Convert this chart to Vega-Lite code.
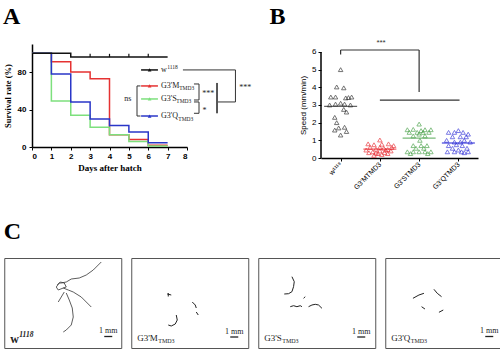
{
 "$schema": "https://vega.github.io/schema/vega-lite/v6.json",
 "padding": {"left": 3, "top": 5, "right": 3, "bottom": 0},
 "background": "white",
 "config": {
  "view": {"stroke": null},
  "axis": {"grid": false, "domainColor": "#000", "tickColor": "#000", "labelColor": "#000", "titleColor": "#000", "tickSize": 3, "labelOverlap": false, "labelSeparation": 0}
 },
 "spacing": 28,
 "center": true,
 "resolve": {"scale": {"color": "independent"}},
 "vconcat": [
  {
   "spacing": 17,
   "resolve": {"scale": {"color": "independent"}},
   "hconcat": [
    {
     "title": {"text": "A", "anchor": "start", "frame": "bounds", "fontSize": 24, "font": "Liberation Serif", "fontWeight": "bold", "offset": 15},
     "width": 155,
     "height": 103,
     "layer": [
      {
       "data": {"values": [
        {"s": "M", "x": 0, "y": 100}, {"s": "M", "x": 1, "y": 91}, {"s": "M", "x": 2, "y": 80}, {"s": "M", "x": 3, "y": 73}, {"s": "M", "x": 4, "y": 13}, {"s": "M", "x": 5, "y": 8}, {"s": "M", "x": 6, "y": 2}, {"s": "M", "x": 7, "y": 2},
        {"s": "S", "x": 0, "y": 100}, {"s": "S", "x": 1, "y": 49}, {"s": "S", "x": 2, "y": 34}, {"s": "S", "x": 3, "y": 21}, {"s": "S", "x": 4, "y": 13}, {"s": "S", "x": 5, "y": 6}, {"s": "S", "x": 6, "y": 1}, {"s": "S", "x": 7, "y": 1},
        {"s": "Q", "x": 0, "y": 100}, {"s": "Q", "x": 1, "y": 78}, {"s": "Q", "x": 2, "y": 48}, {"s": "Q", "x": 3, "y": 30}, {"s": "Q", "x": 4, "y": 23}, {"s": "Q", "x": 5, "y": 16}, {"s": "Q", "x": 6, "y": 4.6}, {"s": "Q", "x": 7, "y": 4.6},
        {"s": "W", "x": 0, "y": 100}, {"s": "W", "x": 1, "y": 100}, {"s": "W", "x": 2, "y": 96}, {"s": "W", "x": 7, "y": 96}
       ]},
       "mark": {"type": "line", "interpolate": "step-after", "strokeWidth": 1.5},
       "encoding": {
        "x": {"field": "x", "type": "quantitative", "scale": {"domain": [0, 8], "nice": false},
              "axis": {"values": [0, 1, 2, 3, 4, 5, 6, 7, 8], "tickCount": 9, "labelOverlap": false, "title": "Days after hatch", "titleFont": "Liberation Serif", "titleFontSize": 9, "titleFontWeight": "bold", "labelFont": "Liberation Sans", "labelFontSize": 8, "labelFontWeight": "bold", "titlePadding": 3, "domainWidth": 1.5}},
        "y": {"field": "y", "type": "quantitative", "scale": {"domain": [0, 110], "nice": false},
              "axis": {"values": [0, 20, 40, 60, 80, 100], "labelOverlap": false, "title": "Survival rate (%)", "titleFont": "Liberation Serif", "titleFontSize": 8.5, "titleFontWeight": "bold", "labelFont": "Liberation Sans", "labelFontSize": 8, "labelFontWeight": "bold", "labelPadding": 3, "titlePadding": 5, "domainWidth": 1.5}},
        "color": {"field": "s", "type": "nominal", "scale": {"domain": ["M", "S", "Q", "W"], "range": ["#e53232", "#7de07d", "#2a36c8", "#111111"]}, "legend": null},
        "order": {"field": "x"}
       }
      },
      {
       "data": {"values": [{"x": 3, "x2": 3, "y": 96, "y2": 99.5}, {"x": 4, "x2": 4, "y": 96, "y2": 99.5}, {"x": 5, "x2": 5, "y": 96, "y2": 99.5}, {"x": 6, "x2": 6, "y": 96, "y2": 99.5}]},
       "mark": {"type": "rule", "color": "#111", "strokeWidth": 1.2},
       "encoding": {"x": {"field": "x", "type": "quantitative"}, "x2": {"field": "x2"}, "y": {"field": "y", "type": "quantitative"}, "y2": {"field": "y2"}}
      },
      {
       "data": {"values": [
        {"s": "W", "x": 5.63, "x2": 6.5, "y": 82.3, "y2": 82.3},
        {"s": "M", "x": 5.63, "x2": 6.5, "y": 65.2, "y2": 65.2},
        {"s": "S", "x": 5.63, "x2": 6.5, "y": 51.3, "y2": 51.3},
        {"s": "Q", "x": 5.63, "x2": 6.5, "y": 33.1, "y2": 33.1}
       ]},
       "mark": {"type": "rule", "strokeWidth": 1.5},
       "encoding": {"x": {"field": "x", "type": "quantitative"}, "x2": {"field": "x2"}, "y": {"field": "y", "type": "quantitative"}, "y2": {"field": "y2"},
                    "color": {"field": "s", "type": "nominal", "legend": null}}
      },
      {
       "data": {"values": [
        {"s": "W", "x": 6.07, "y": 82.3}, {"s": "M", "x": 6.07, "y": 65.2}, {"s": "S", "x": 6.07, "y": 51.3}, {"s": "Q", "x": 6.07, "y": 33.1}
       ]},
       "mark": {"type": "point", "shape": "triangle-up", "filled": true, "size": 14, "opacity": 1},
       "encoding": {"x": {"field": "x", "type": "quantitative"}, "y": {"field": "y", "type": "quantitative"},
                    "color": {"field": "s", "type": "nominal", "legend": null}}
      },
      {
       "data": {"values": [
        {"x": 6.66, "y": 82.3, "t": "w"}, {"x": 6.66, "y": 65.2, "t": "G3'M"}, {"x": 6.66, "y": 51.3, "t": "G3'S"}, {"x": 6.66, "y": 33.1, "t": "G3'Q"}
       ]},
       "mark": {"type": "text", "align": "left", "baseline": "middle", "font": "Liberation Serif", "fontSize": 8, "fill": "#222"},
       "encoding": {"x": {"field": "x", "type": "quantitative"}, "y": {"field": "y", "type": "quantitative"}, "text": {"field": "t"}}
      },
      {
       "data": {"values": [{"x": 6.98, "y": 82.3, "t": "1118"}]},
       "mark": {"type": "text", "align": "left", "baseline": "middle", "font": "Liberation Serif", "fontSize": 5.5, "dy": -3, "fill": "#222"},
       "encoding": {"x": {"field": "x", "type": "quantitative"}, "y": {"field": "y", "type": "quantitative"}, "text": {"field": "t"}}
      },
      {
       "data": {"values": [
        {"x": 7.6, "y": 65.2, "t": "TMD3"}, {"x": 7.45, "y": 51.3, "t": "TMD3"}, {"x": 7.55, "y": 33.1, "t": "TMD3"}
       ]},
       "mark": {"type": "text", "align": "left", "baseline": "middle", "font": "Liberation Serif", "fontSize": 5.5, "dy": 2.5, "fill": "#222"},
       "encoding": {"x": {"field": "x", "type": "quantitative"}, "y": {"field": "y", "type": "quantitative"}, "text": {"field": "t"}}
      },
      {
       "data": {"values": [
        {"x": 5.42, "x2": 5.42, "y": 65.2, "y2": 33.1},
        {"x": 5.42, "x2": 5.6, "y": 65.2, "y2": 65.2},
        {"x": 5.42, "x2": 5.6, "y": 33.1, "y2": 33.1},
        {"x": 8.36, "x2": 8.62, "y": 67.3, "y2": 67.3},
        {"x": 8.62, "x2": 8.62, "y": 67.3, "y2": 50.2},
        {"x": 8.36, "x2": 8.62, "y": 50.2, "y2": 50.2},
        {"x": 8.36, "x2": 8.62, "y": 48.1, "y2": 48.1},
        {"x": 8.62, "x2": 8.62, "y": 48.1, "y2": 36},
        {"x": 8.36, "x2": 8.62, "y": 36, "y2": 36},
        {"x": 9.55, "x2": 10.5, "y": 48.1, "y2": 48.1},
        {"x": 10.5, "x2": 10.5, "y": 82.3, "y2": 48.1},
        {"x": 7.79, "x2": 10.5, "y": 82.3, "y2": 82.3}
       ]},
       "mark": {"type": "rule", "color": "#333", "strokeWidth": 1},
       "encoding": {"x": {"field": "x", "type": "quantitative"}, "x2": {"field": "x2"}, "y": {"field": "y", "type": "quantitative"}, "y2": {"field": "y2"}}
      },
      {
       "data": {"values": [{"x": 9.55, "x2": 9.55, "y": 68.4, "y2": 36}]},
       "mark": {"type": "rule", "color": "#555", "strokeWidth": 2},
       "encoding": {"x": {"field": "x", "type": "quantitative"}, "x2": {"field": "x2"}, "y": {"field": "y", "type": "quantitative"}, "y2": {"field": "y2"}}
      },
      {
       "data": {"values": [
        {"x": 4.95, "y": 51.3, "t": "ns"}, {"x": 9.1, "y": 57, "t": "***"}, {"x": 8.9, "y": 38.5, "t": "*"}, {"x": 11.0, "y": 63.5, "t": "***"}
       ]},
       "mark": {"type": "text", "align": "center", "baseline": "middle", "font": "Liberation Serif", "fontSize": 8, "fill": "#222"},
       "encoding": {"x": {"field": "x", "type": "quantitative"}, "y": {"field": "y", "type": "quantitative"}, "text": {"field": "t"}}
      }
     ]
    },
    {
     "title": {"text": "B", "anchor": "start", "frame": "bounds", "fontSize": 24, "font": "Liberation Serif", "fontWeight": "bold", "offset": 10, "dx": -30},
     "width": 157,
     "height": 114,
     "layer": [
      {
       "data": {"values": [
        {"g": "w", "x": 0.00, "y": 5.0}, {"g": "w", "x": -0.10, "y": 4.02}, {"g": "w", "x": 0.08, "y": 3.97}, {"g": "w", "x": -0.25, "y": 3.45}, {"g": "w", "x": -0.13, "y": 3.45}, {"g": "w", "x": 0.13, "y": 3.4}, {"g": "w", "x": 0.2, "y": 3.42}, {"g": "w", "x": 0.28, "y": 3.45},
        {"g": "w", "x": -0.28, "y": 3.0}, {"g": "w", "x": -0.13, "y": 3.05}, {"g": "w", "x": 0.0, "y": 3.1}, {"g": "w", "x": 0.1, "y": 3.05}, {"g": "w", "x": 0.25, "y": 3.0}, {"g": "w", "x": 0.08, "y": 2.75}, {"g": "w", "x": 0.15, "y": 2.6},
        {"g": "w", "x": -0.15, "y": 2.3}, {"g": "w", "x": -0.1, "y": 2.0}, {"g": "w", "x": 0.1, "y": 1.74}, {"g": "w", "x": -0.05, "y": 1.7}, {"g": "w", "x": -0.15, "y": 1.58}, {"g": "w", "x": 0.15, "y": 1.5}, {"g": "w", "x": 0.0, "y": 1.3},
        {"g": "M", "x": 1.0, "y": 1.02}, {"g": "M", "x": 0.7, "y": 0.8}, {"g": "M", "x": 0.85, "y": 0.75}, {"g": "M", "x": 1.05, "y": 0.78}, {"g": "M", "x": 1.22, "y": 0.8}, {"g": "M", "x": 1.35, "y": 0.7}, {"g": "M", "x": 0.75, "y": 0.6}, {"g": "M", "x": 1.1, "y": 0.55},
        {"g": "M", "x": 0.9, "y": 0.5}, {"g": "M", "x": 1.2, "y": 0.48}, {"g": "M", "x": 0.65, "y": 0.45}, {"g": "M", "x": 1.0, "y": 0.4}, {"g": "M", "x": 1.28, "y": 0.4}, {"g": "M", "x": 0.82, "y": 0.35}, {"g": "M", "x": 1.12, "y": 0.3}, {"g": "M", "x": 0.95, "y": 0.25},
        {"g": "M", "x": 1.05, "y": 0.2}, {"g": "M", "x": 0.72, "y": 0.3}, {"g": "M", "x": 1.15, "y": 0.45}, {"g": "M", "x": 1.3, "y": 0.6}, {"g": "M", "x": 0.85, "y": 0.15}, {"g": "M", "x": 1.0, "y": 0.6}, {"g": "M", "x": 0.9, "y": 0.28}, {"g": "M", "x": 1.2, "y": 0.25},
        {"g": "S", "x": 2.0, "y": 1.92}, {"g": "S", "x": 1.7, "y": 1.6}, {"g": "S", "x": 1.85, "y": 1.62}, {"g": "S", "x": 2.15, "y": 1.6}, {"g": "S", "x": 2.3, "y": 1.6}, {"g": "S", "x": 2.05, "y": 1.55}, {"g": "S", "x": 1.75, "y": 1.45}, {"g": "S", "x": 1.95, "y": 1.45},
        {"g": "S", "x": 2.1, "y": 1.45}, {"g": "S", "x": 2.25, "y": 1.45}, {"g": "S", "x": 2.0, "y": 1.35}, {"g": "S", "x": 1.85, "y": 1.25}, {"g": "S", "x": 2.15, "y": 1.25}, {"g": "S", "x": 2.02, "y": 1.0}, {"g": "S", "x": 1.85, "y": 0.7}, {"g": "S", "x": 2.05, "y": 0.7},
        {"g": "S", "x": 2.2, "y": 0.7}, {"g": "S", "x": 1.92, "y": 0.55}, {"g": "S", "x": 2.12, "y": 0.55}, {"g": "S", "x": 1.7, "y": 0.35}, {"g": "S", "x": 1.85, "y": 0.35}, {"g": "S", "x": 2.0, "y": 0.35}, {"g": "S", "x": 2.15, "y": 0.35}, {"g": "S", "x": 2.3, "y": 0.35},
        {"g": "S", "x": 1.78, "y": 0.25}, {"g": "S", "x": 2.22, "y": 0.25},
        {"g": "Q", "x": 3.0, "y": 1.55}, {"g": "Q", "x": 2.75, "y": 1.45}, {"g": "Q", "x": 2.9, "y": 1.45}, {"g": "Q", "x": 3.12, "y": 1.45}, {"g": "Q", "x": 3.25, "y": 1.35}, {"g": "Q", "x": 2.85, "y": 1.2}, {"g": "Q", "x": 3.05, "y": 1.2}, {"g": "Q", "x": 3.2, "y": 1.2},
        {"g": "Q", "x": 2.7, "y": 1.0}, {"g": "Q", "x": 3.15, "y": 1.0}, {"g": "Q", "x": 2.9, "y": 0.9}, {"g": "Q", "x": 3.05, "y": 0.9}, {"g": "Q", "x": 3.3, "y": 0.9}, {"g": "Q", "x": 2.75, "y": 0.7}, {"g": "Q", "x": 3.1, "y": 0.7}, {"g": "Q", "x": 2.85, "y": 0.55},
        {"g": "Q", "x": 3.22, "y": 0.55}, {"g": "Q", "x": 3.0, "y": 0.45}, {"g": "Q", "x": 2.72, "y": 0.35}, {"g": "Q", "x": 2.9, "y": 0.35}, {"g": "Q", "x": 3.08, "y": 0.35}, {"g": "Q", "x": 3.25, "y": 0.35}, {"g": "Q", "x": 3.15, "y": 0.3}, {"g": "Q", "x": 2.95, "y": 0.75}
       ]},
       "mark": {"type": "point", "shape": "triangle-up", "filled": false, "size": 20, "strokeWidth": 0.9},
       "encoding": {
        "x": {"field": "x", "type": "quantitative", "scale": {"domain": [-0.5, 3.5], "nice": false},
              "axis": {"values": [0, 1, 2, 3], "labelOverlap": false, "labelExpr": "['w¹¹¹⁸', 'G3\\'MTMD3', 'G3\\'STMD3', 'G3\\'QTMD3'][datum.value]", "labelAngle": -45, "labelAlign": "right", "labelBaseline": "middle", "labelFont": "Liberation Sans", "labelFontSize": 7, "title": null, "domainWidth": 1.5}},
        "y": {"field": "y", "type": "quantitative", "scale": {"domain": [0, 6.45], "nice": false},
              "axis": {"values": [0, 1, 2, 3, 4, 5, 6], "tickCount": 7, "labelOverlap": false, "domain": false, "title": "Speed (mm/min)", "titleFont": "Liberation Sans", "titleFontSize": 8, "titleFontWeight": "normal", "titleY": 61, "labelFont": "Liberation Sans", "labelFontSize": 8, "titlePadding": 4}},
        "color": {"field": "g", "type": "nominal", "scale": {"domain": ["w", "M", "S", "Q"], "range": ["#222222", "#e8242a", "#3f9c3f", "#2a2ad6"]}, "legend": null}
       }
      },
      {
       "data": {"values": [{"x": -0.5, "x2": -0.5, "y": 0, "y2": 6}]},
       "mark": {"type": "rule", "color": "#000", "strokeWidth": 1.5},
       "encoding": {"x": {"field": "x", "type": "quantitative"}, "x2": {"field": "x2"}, "y": {"field": "y", "type": "quantitative"}, "y2": {"field": "y2"}}
      },
      {
       "data": {"values": [{"g": "w", "x": 0, "y": 2.92}, {"g": "M", "x": 1, "y": 0.5}, {"g": "S", "x": 2, "y": 1.13}, {"g": "Q", "x": 3, "y": 0.85}]},
       "mark": {"type": "tick", "orient": "horizontal", "size": 33, "thickness": 1.3},
       "encoding": {"x": {"field": "x", "type": "quantitative"}, "y": {"field": "y", "type": "quantitative"},
                    "color": {"field": "g", "type": "nominal", "legend": null}}
      },
      {
       "data": {"values": [
        {"x": 0, "x2": 0, "y": 6.11, "y2": 5.85},
        {"x": 0, "x2": 2, "y": 6.11, "y2": 6.11},
        {"x": 2, "x2": 2, "y": 6.11, "y2": 3.74},
        {"x": 1, "x2": 3.03, "y": 3.28, "y2": 3.28}
       ]},
       "mark": {"type": "rule", "color": "#333", "strokeWidth": 1.2},
       "encoding": {"x": {"field": "x", "type": "quantitative"}, "x2": {"field": "x2"}, "y": {"field": "y", "type": "quantitative"}, "y2": {"field": "y2"}}
      },
      {
       "data": {"values": [{"x": 1.03, "y": 6.5, "t": "***"}]},
       "mark": {"type": "text", "align": "center", "baseline": "middle", "font": "Liberation Sans", "fontSize": 8, "fill": "#333"},
       "encoding": {"x": {"field": "x", "type": "quantitative"}, "y": {"field": "y", "type": "quantitative"}, "text": {"field": "t"}}
      }
     ]
    }
   ]
  },
  {
   "title": {"text": "C", "anchor": "start", "frame": "bounds", "fontSize": 24, "font": "Liberation Serif", "fontWeight": "bold", "offset": 14},
   "spacing": 8,
   "hconcat": [
    {
     "width": 117, "height": 90, "view": {"stroke": "#555", "strokeWidth": 1},
     "layer": [
      {
       "data": {"values": [
        {"seg": 1, "i": 1, "x": 97, "y": 4}, {"seg": 1, "i": 2, "x": 89, "y": 12}, {"seg": 1, "i": 3, "x": 82, "y": 17}, {"seg": 1, "i": 4, "x": 75, "y": 20}, {"seg": 1, "i": 5, "x": 67, "y": 21}, {"seg": 1, "i": 6, "x": 62, "y": 24}, {"seg": 1, "i": 7, "x": 57, "y": 25},
        {"seg": 1, "i": 8, "x": 55, "y": 25}, {"seg": 1, "i": 9, "x": 52, "y": 29}, {"seg": 1, "i": 10, "x": 54, "y": 32}, {"seg": 1, "i": 11, "x": 59, "y": 30}, {"seg": 1, "i": 12, "x": 62, "y": 29}, {"seg": 1, "i": 13, "x": 60, "y": 25}, {"seg": 1, "i": 14, "x": 56, "y": 24}, {"seg": 1, "i": 15, "x": 53, "y": 27},
        {"seg": 2, "i": 1, "x": 59, "y": 30}, {"seg": 2, "i": 2, "x": 64, "y": 32}, {"seg": 2, "i": 3, "x": 69, "y": 34}, {"seg": 2, "i": 4, "x": 77, "y": 39}, {"seg": 2, "i": 5, "x": 82, "y": 44}, {"seg": 2, "i": 6, "x": 87, "y": 49},
        {"seg": 3, "i": 1, "x": 62, "y": 35}, {"seg": 3, "i": 2, "x": 65, "y": 42}, {"seg": 3, "i": 3, "x": 68, "y": 50}, {"seg": 3, "i": 4, "x": 69, "y": 59}, {"seg": 3, "i": 5, "x": 67, "y": 67}, {"seg": 3, "i": 6, "x": 62, "y": 72}, {"seg": 3, "i": 7, "x": 59, "y": 74},
        {"seg": 4, "i": 1, "x": 60, "y": 34}, {"seg": 4, "i": 2, "x": 57, "y": 39}, {"seg": 4, "i": 3, "x": 54, "y": 44}
       ]},
       "mark": {"type": "line", "color": "#333", "strokeWidth": 0.8},
       "encoding": {"x": {"field": "x", "type": "quantitative", "scale": {"domain": [0, 117], "nice": false}, "axis": null},
                    "y": {"field": "y", "type": "quantitative", "scale": {"domain": [90, 0], "nice": false}, "axis": null},
                    "detail": {"field": "seg"}, "order": {"field": "i"}}
      },
      {
       "data": {"values": [{"x": 100, "x2": 108, "y": 78.5, "y2": 78.5}]},
       "mark": {"type": "rule", "color": "#222", "strokeWidth": 1.3},
       "encoding": {"x": {"field": "x", "type": "quantitative"}, "x2": {"field": "x2"}, "y": {"field": "y", "type": "quantitative"}, "y2": {"field": "y2"}}
      },
      {
       "data": {"values": [{"x": 104, "y": 73, "t": "1 mm"}]},
       "mark": {"type": "text", "font": "Liberation Serif", "fontSize": 8, "align": "center", "baseline": "middle", "fill": "#222"},
       "encoding": {"x": {"field": "x", "type": "quantitative"}, "y": {"field": "y", "type": "quantitative"}, "text": {"field": "t"}}
      },
      {
       "data": {"values": [{"x": 6, "y": 81, "t": "w"}]},
       "mark": {"type": "text", "font": "Liberation Serif", "fontSize": 12, "fontWeight": "bold", "align": "left", "baseline": "middle", "fill": "#222"},
       "encoding": {"x": {"field": "x", "type": "quantitative"}, "y": {"field": "y", "type": "quantitative"}, "text": {"field": "t"}}
      },
      {
       "data": {"values": [{"x": 15, "y": 81, "t": "1118"}]},
       "mark": {"type": "text", "font": "Liberation Serif", "fontSize": 7.5, "fontStyle": "italic", "fontWeight": "bold", "align": "left", "baseline": "middle", "dy": -4, "fill": "#222"},
       "encoding": {"x": {"field": "x", "type": "quantitative"}, "y": {"field": "y", "type": "quantitative"}, "text": {"field": "t"}}
      }
     ]
    },
    {
     "width": 117, "height": 90, "view": {"stroke": "#555", "strokeWidth": 1},
     "layer": [
      {
       "data": {"values": [
        {"seg": 1, "i": 1, "x": 36, "y": 36}, {"seg": 1, "i": 2, "x": 40, "y": 37},
        {"seg": 2, "i": 1, "x": 37, "y": 35}, {"seg": 2, "i": 2, "x": 37, "y": 38.5},
        {"seg": 3, "i": 1, "x": 61, "y": 44}, {"seg": 3, "i": 2, "x": 64, "y": 47}, {"seg": 3, "i": 3, "x": 65, "y": 50},
        {"seg": 4, "i": 1, "x": 65, "y": 54}, {"seg": 4, "i": 2, "x": 67, "y": 57},
        {"seg": 5, "i": 1, "x": 45, "y": 57}, {"seg": 5, "i": 2, "x": 46, "y": 62}, {"seg": 5, "i": 3, "x": 44, "y": 66}, {"seg": 5, "i": 4, "x": 40, "y": 68}, {"seg": 5, "i": 5, "x": 37, "y": 67}
       ]},
       "mark": {"type": "line", "color": "#222", "strokeWidth": 1},
       "encoding": {"x": {"field": "x", "type": "quantitative", "scale": {"domain": [0, 117], "nice": false}, "axis": null},
                    "y": {"field": "y", "type": "quantitative", "scale": {"domain": [90, 0], "nice": false}, "axis": null},
                    "detail": {"field": "seg"}, "order": {"field": "i"}}
      },
      {
       "data": {"values": [{"x": 99, "x2": 107, "y": 79, "y2": 79}]},
       "mark": {"type": "rule", "color": "#222", "strokeWidth": 1.3},
       "encoding": {"x": {"field": "x", "type": "quantitative"}, "x2": {"field": "x2"}, "y": {"field": "y", "type": "quantitative"}, "y2": {"field": "y2"}}
      },
      {
       "data": {"values": [{"x": 103, "y": 74, "t": "1 mm"}]},
       "mark": {"type": "text", "font": "Liberation Serif", "fontSize": 8, "align": "center", "baseline": "middle", "fill": "#222"},
       "encoding": {"x": {"field": "x", "type": "quantitative"}, "y": {"field": "y", "type": "quantitative"}, "text": {"field": "t"}}
      },
      {
       "data": {"values": [{"x": 6, "y": 80, "t": "G3'M"}]},
       "mark": {"type": "text", "font": "Liberation Serif", "fontSize": 9, "align": "left", "baseline": "middle", "fill": "#222"},
       "encoding": {"x": {"field": "x", "type": "quantitative"}, "y": {"field": "y", "type": "quantitative"}, "text": {"field": "t"}}
      },
      {
       "data": {"values": [{"x": 27, "y": 80, "t": "TMD3"}]},
       "mark": {"type": "text", "font": "Liberation Serif", "fontSize": 6, "align": "left", "baseline": "middle", "dy": 3, "fill": "#222"},
       "encoding": {"x": {"field": "x", "type": "quantitative"}, "y": {"field": "y", "type": "quantitative"}, "text": {"field": "t"}}
      }
     ]
    },
    {
     "width": 117, "height": 90, "view": {"stroke": "#555", "strokeWidth": 1},
     "layer": [
      {
       "data": {"values": [
        {"seg": 1, "i": 1, "x": 33.7, "y": 18.7}, {"seg": 1, "i": 2, "x": 36, "y": 23.7}, {"seg": 1, "i": 3, "x": 35.3, "y": 28.7}, {"seg": 1, "i": 4, "x": 33.7, "y": 33.7}, {"seg": 1, "i": 5, "x": 30.3, "y": 35.7}, {"seg": 1, "i": 6, "x": 26, "y": 36},
        {"seg": 2, "i": 1, "x": 45.3, "y": 40.3}, {"seg": 2, "i": 2, "x": 47, "y": 38.7},
        {"seg": 3, "i": 1, "x": 32, "y": 48.7}, {"seg": 3, "i": 2, "x": 35.3, "y": 47.7}, {"seg": 3, "i": 3, "x": 38.7, "y": 48.7}, {"seg": 3, "i": 4, "x": 42, "y": 47.7}, {"seg": 3, "i": 5, "x": 43.7, "y": 48.7},
        {"seg": 4, "i": 1, "x": 50.3, "y": 48.7}, {"seg": 4, "i": 2, "x": 53.7, "y": 47}, {"seg": 4, "i": 3, "x": 57, "y": 46.3}, {"seg": 4, "i": 4, "x": 60.3, "y": 47}, {"seg": 4, "i": 5, "x": 63.7, "y": 50.3}
       ]},
       "mark": {"type": "line", "color": "#222", "strokeWidth": 1},
       "encoding": {"x": {"field": "x", "type": "quantitative", "scale": {"domain": [0, 117], "nice": false}, "axis": null},
                    "y": {"field": "y", "type": "quantitative", "scale": {"domain": [90, 0], "nice": false}, "axis": null},
                    "detail": {"field": "seg"}, "order": {"field": "i"}}
      },
      {
       "data": {"values": [{"x": 99, "x2": 107, "y": 79, "y2": 79}]},
       "mark": {"type": "rule", "color": "#222", "strokeWidth": 1.3},
       "encoding": {"x": {"field": "x", "type": "quantitative"}, "x2": {"field": "x2"}, "y": {"field": "y", "type": "quantitative"}, "y2": {"field": "y2"}}
      },
      {
       "data": {"values": [{"x": 103, "y": 74, "t": "1 mm"}]},
       "mark": {"type": "text", "font": "Liberation Serif", "fontSize": 8, "align": "center", "baseline": "middle", "fill": "#222"},
       "encoding": {"x": {"field": "x", "type": "quantitative"}, "y": {"field": "y", "type": "quantitative"}, "text": {"field": "t"}}
      },
      {
       "data": {"values": [{"x": 6, "y": 80, "t": "G3'S"}]},
       "mark": {"type": "text", "font": "Liberation Serif", "fontSize": 9, "align": "left", "baseline": "middle", "fill": "#222"},
       "encoding": {"x": {"field": "x", "type": "quantitative"}, "y": {"field": "y", "type": "quantitative"}, "text": {"field": "t"}}
      },
      {
       "data": {"values": [{"x": 24, "y": 80, "t": "TMD3"}]},
       "mark": {"type": "text", "font": "Liberation Serif", "fontSize": 6, "align": "left", "baseline": "middle", "dy": 3, "fill": "#222"},
       "encoding": {"x": {"field": "x", "type": "quantitative"}, "y": {"field": "y", "type": "quantitative"}, "text": {"field": "t"}}
      }
     ]
    },
    {
     "width": 117, "height": 90, "view": {"stroke": "#555", "strokeWidth": 1},
     "layer": [
      {
       "data": {"values": [
        {"seg": 1, "i": 1, "x": 27.7, "y": 40.3}, {"seg": 1, "i": 2, "x": 33.7, "y": 37}, {"seg": 1, "i": 3, "x": 38.7, "y": 35.3},
        {"seg": 2, "i": 1, "x": 48.7, "y": 31.3}, {"seg": 2, "i": 2, "x": 52, "y": 35.3}, {"seg": 2, "i": 3, "x": 56.3, "y": 38.7},
        {"seg": 3, "i": 1, "x": 36.3, "y": 48.7}, {"seg": 3, "i": 2, "x": 39.7, "y": 51},
        {"seg": 4, "i": 1, "x": 53.7, "y": 54.3}, {"seg": 4, "i": 2, "x": 58, "y": 52}
       ]},
       "mark": {"type": "line", "color": "#222", "strokeWidth": 1},
       "encoding": {"x": {"field": "x", "type": "quantitative", "scale": {"domain": [0, 117], "nice": false}, "axis": null},
                    "y": {"field": "y", "type": "quantitative", "scale": {"domain": [90, 0], "nice": false}, "axis": null},
                    "detail": {"field": "seg"}, "order": {"field": "i"}}
      },
      {
       "data": {"values": [{"x": 100, "x2": 108, "y": 78.5, "y2": 78.5}]},
       "mark": {"type": "rule", "color": "#222", "strokeWidth": 1.3},
       "encoding": {"x": {"field": "x", "type": "quantitative"}, "x2": {"field": "x2"}, "y": {"field": "y", "type": "quantitative"}, "y2": {"field": "y2"}}
      },
      {
       "data": {"values": [{"x": 117, "x2": 120, "y": 45, "y2": 45}]},
       "mark": {"type": "rule", "color": "#fff", "opacity": 0, "strokeWidth": 1},
       "encoding": {"x": {"field": "x", "type": "quantitative"}, "x2": {"field": "x2"}, "y": {"field": "y", "type": "quantitative"}, "y2": {"field": "y2"}}
      },
      {
       "data": {"values": [{"x": 104, "y": 73, "t": "1 mm"}]},
       "mark": {"type": "text", "font": "Liberation Serif", "fontSize": 8, "align": "center", "baseline": "middle", "fill": "#222"},
       "encoding": {"x": {"field": "x", "type": "quantitative"}, "y": {"field": "y", "type": "quantitative"}, "text": {"field": "t"}}
      },
      {
       "data": {"values": [{"x": 6, "y": 80, "t": "G3'Q"}]},
       "mark": {"type": "text", "font": "Liberation Serif", "fontSize": 9, "align": "left", "baseline": "middle", "fill": "#222"},
       "encoding": {"x": {"field": "x", "type": "quantitative"}, "y": {"field": "y", "type": "quantitative"}, "text": {"field": "t"}}
      },
      {
       "data": {"values": [{"x": 25.5, "y": 80, "t": "TMD3"}]},
       "mark": {"type": "text", "font": "Liberation Serif", "fontSize": 6, "align": "left", "baseline": "middle", "dy": 3, "fill": "#222"},
       "encoding": {"x": {"field": "x", "type": "quantitative"}, "y": {"field": "y", "type": "quantitative"}, "text": {"field": "t"}}
      }
     ]
    }
   ]
  }
 ]
}
